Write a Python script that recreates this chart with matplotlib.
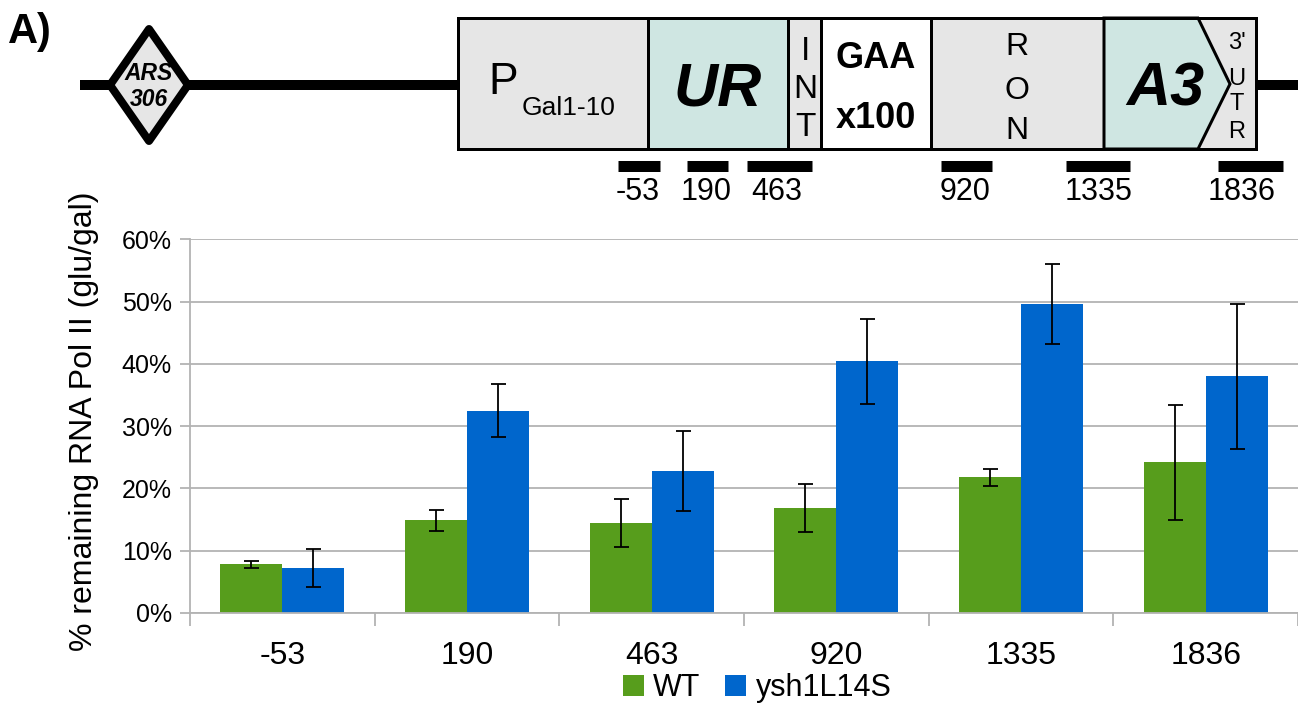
import numpy as np
import matplotlib
matplotlib.use("Agg")
import matplotlib.pyplot as plt
from matplotlib.patches import Rectangle, Polygon, Patch

plt.rcParams['font.family'] = ['Liberation Sans', 'DejaVu Sans']

# ---------------- data ----------------
categories = ["-53", "190", "463", "920", "1335", "1836"]
wt_values = [7.8, 14.9, 14.4, 16.8, 21.8, 24.2]
wt_errors = [0.6, 1.7, 3.85, 3.85, 1.4, 9.25]
ysh_values = [7.2, 32.5, 22.8, 40.4, 49.6, 38.0]
ysh_errors = [3.1, 4.3, 6.5, 6.8, 6.4, 11.6]
series_names = ["WT", "ysh1L14S"]
yticks = [0, 10, 20, 30, 40, 50, 60]

GREEN = "#579d1c"
BLUE = "#0066cc"
GRID = "#b3b3b3"
GREY_FILL = "#e6e6e6"
TEAL_FILL = "#cfe6e2"

W, H = 1298, 707
fig = plt.figure(figsize=(W / 100, H / 100), dpi=100)

# ---------------- schematic (pixel coordinates) ----------------
ax0 = fig.add_axes([0, 0, 1, 1])
ax0.set_xlim(0, W)
ax0.set_ylim(H, 0)
ax0.axis("off")
ax0.patch.set_alpha(0)

PX = 72 / 100  # points per pixel

# chromosome line
ax0.plot([80, 460], [85, 85], color="black", lw=10 * PX, solid_capstyle="butt", zorder=1)
ax0.plot([1254, 1298], [85, 85], color="black", lw=10 * PX, solid_capstyle="butt", zorder=1)

# ARS diamond
ax0.add_patch(Polygon([(149, 29), (188, 85), (149, 141), (110, 85)], closed=True,
                      facecolor=GREY_FILL, edgecolor="black", lw=8 * PX,
                      joinstyle="round", zorder=2))
ax0.text(149, 74, "ARS", ha="center", va="center", fontsize=16.5, fontweight="bold",
         fontstyle="italic", zorder=3)
ax0.text(149, 100, "306", ha="center", va="center", fontsize=16.5, fontweight="bold",
         fontstyle="italic", zorder=3)

# construct boxes
top, bot = 18, 149
sections = [(458, 648, GREY_FILL), (648, 788, TEAL_FILL), (788, 821, GREY_FILL),
            (821, 931, "white"), (931, 1104, GREY_FILL), (1104, 1256, GREY_FILL)]
for x0, x1, c in sections:
    ax0.add_patch(Rectangle((x0, top), x1 - x0, bot - top, facecolor=c,
                            edgecolor="black", lw=3 * PX, zorder=2))
ax0.add_patch(Polygon([(1104, top), (1198, top), (1230, 84), (1198, bot), (1104, bot)],
                      closed=True, facecolor=TEAL_FILL, edgecolor="black", lw=3 * PX,
                      joinstyle="miter", zorder=3))
ax0.add_patch(Rectangle((458, top), 1256 - 458, bot - top, facecolor="none",
                        edgecolor="black", lw=3 * PX, zorder=4))

ax0.text(503, 82, "P", ha="center", va="center", fontsize=32, zorder=5)
ax0.text(569, 108, "Gal1-10", ha="center", va="center", fontsize=19, zorder=5)
ax0.text(718, 90, "UR", ha="center", va="center", fontsize=44, fontweight="bold",
         fontstyle="italic", zorder=5)
for ch, yy in zip("INT", [51, 89, 128]):
    ax0.text(805, yy, ch, ha="center", va="center", fontsize=24, zorder=5)
ax0.text(876, 59, "GAA", ha="center", va="center", fontsize=26, fontweight="bold", zorder=5)
ax0.text(876, 118, "x100", ha="center", va="center", fontsize=26, fontweight="bold", zorder=5)
for ch, yy in zip("RON", [47, 91, 131]):
    ax0.text(1017, yy, ch, ha="center", va="center", fontsize=23, zorder=5)
ax0.text(1165, 90, "A3", ha="center", va="center", fontsize=44, fontweight="bold",
         fontstyle="italic", zorder=5)
for ch, yy in zip(["3'", "U", "T", "R"], [43, 79, 104, 132]):
    ax0.text(1237, yy, ch, ha="center", va="center", fontsize=17, zorder=5)

# primer amplicons
amplicons = [(618, 660), (687, 728), (747, 812), (941, 992), (1066, 1130), (1218, 1283)]
label_x = [638, 706, 777, 965, 1099, 1242]
for (a, b), lx, lab in zip(amplicons, label_x, categories):
    ax0.plot([a, b], [165.5, 165.5], color="black", lw=11 * PX, solid_capstyle="butt")
    ax0.text(lx, 192, lab, ha="center", va="center", fontsize=22)

fig.text(8 / W, 1 - 32 / H, "A)", ha="left", va="center", fontsize=30, fontweight="bold")

# ---------------- bar chart ----------------
ax = fig.add_axes([190 / W, 1 - 613 / H, 1 - 190 / W, (613 - 239.3) / H])
x = np.arange(len(categories))
bw = 0.336
ax.bar(x - bw / 2, wt_values, bw, color=GREEN, zorder=2, label=series_names[0])
ax.bar(x + bw / 2, ysh_values, bw, color=BLUE, zorder=2, label=series_names[1])
ax.errorbar(x - bw / 2, wt_values, yerr=wt_errors, fmt="none", ecolor="black",
            elinewidth=1.3, capsize=5.4, capthick=1.3, zorder=3)
ax.errorbar(x + bw / 2, ysh_values, yerr=ysh_errors, fmt="none", ecolor="black",
            elinewidth=1.3, capsize=5.4, capthick=1.3, zorder=3)

ax.set_xlim(-0.5, len(categories) - 0.5)
ax.set_ylim(0, 60)
ax.set_yticks(yticks)
ax.set_yticklabels([f"{v}%" for v in yticks], fontsize=18)
ax.set_xticks(x)
ax.set_xticklabels(categories, fontsize=23)
ax.set_xticks(np.arange(-0.5, len(categories)), minor=True)
ax.tick_params(axis="x", which="major", length=0, pad=20)
ax.tick_params(axis="x", which="minor", length=9, color=GRID, width=1.3)
ax.tick_params(axis="y", which="major", length=7, color=GRID, width=1.3, pad=6)
ax.yaxis.grid(True, color=GRID, lw=1.3, zorder=0)
ax.set_axisbelow(True)
for s in ["top", "right"]:
    ax.spines[s].set_visible(False)
for s in ["left", "bottom"]:
    ax.spines[s].set_color(GRID)
    ax.spines[s].set_linewidth(1.3)

fig.text(84 / W, 1 - 421 / H, "% remaining RNA Pol II (glu/gal)", rotation=90,
         ha="center", va="center", fontsize=23)

handles = [Patch(facecolor=GREEN), Patch(facecolor=BLUE)]
fig.legend(handles, series_names, loc="center", bbox_to_anchor=(757 / W, 1 - 688 / H),
           ncol=2, frameon=False, fontsize=22, handlelength=0.7, handleheight=0.7,
           handletextpad=0.3, columnspacing=0.8, borderpad=0, borderaxespad=0)

fig.savefig("out.png", dpi=100)
